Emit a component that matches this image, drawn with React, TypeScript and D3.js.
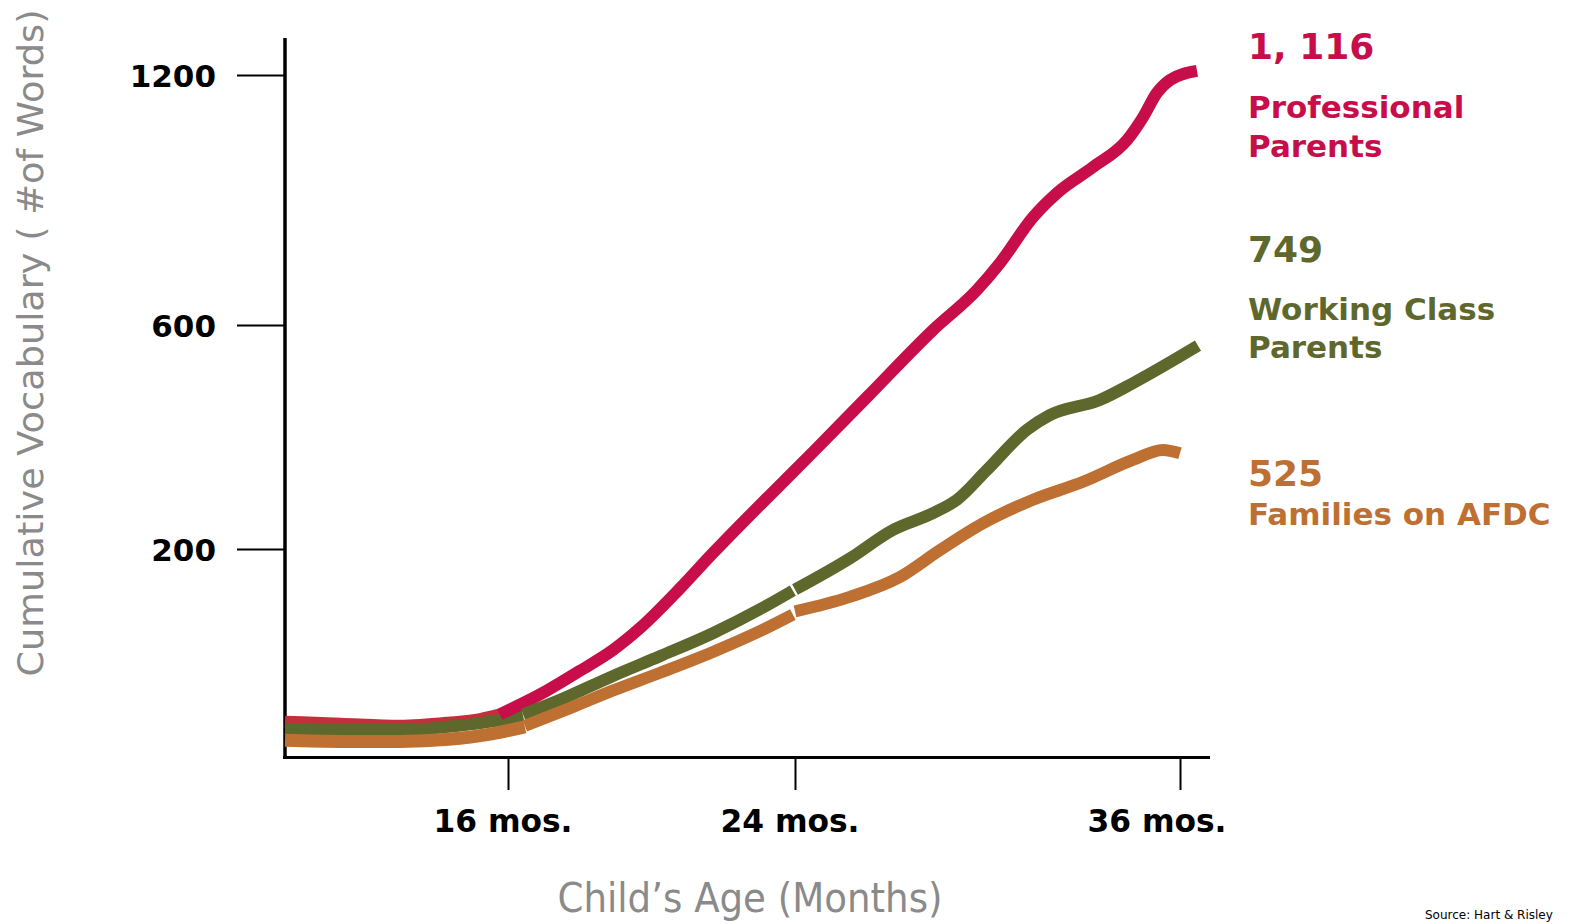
import * as React from 'react';
import * as d3 from 'd3';

// scale breakpoints (the original axes are not linear)
const monthBreaks = [10, 16, 24, 36];
const wordBreaks = [0, 200, 600, 1200];

const xTicks = [16, 24, 36];
const xTickLabels = ['16 mos.', '24 mos.', '36 mos.'];
const yTicks = [200, 600, 1200];
const yTickLabels = ['200', '600', '1200'];

// [month, cumulative words], drawn in pieces like the source slide
const professionalA = [[10, 34], [11.5, 32], [13.1, 30], [14.4, 33], [15.25, 36.5], [15.8, 41]];
const professionalB = [
  [15.78, 41], [17.09, 64], [18.01, 83], [18.93, 103], [19.68, 124], [20.79, 162],
  [21.71, 196], [22.66, 255], [23.58, 314], [24.56, 373], [26.24, 471], [28.3, 591],
  [29.67, 684], [30.39, 749], [31.42, 859], [32.17, 917], [33.29, 979], [34.35, 1044],
  [34.85, 1099], [35.28, 1157], [35.69, 1188], [36.53, 1210],
];

const workingA = [[10, 27], [11.5, 26], [13.1, 26], [14.4, 29], [15.52, 34], [16.42, 40]];
const workingB = [[16.42, 41], [17.45, 55], [18.93, 78], [20.24, 97], [21.71, 119], [23.02, 142], [23.94, 160]];
const workingC = [
  [24, 161], [25.71, 191], [27.05, 234], [28.3, 264], [29.05, 288], [29.98, 341],
  [31.23, 413], [31.94, 439], [33.5, 466], [34.53, 496], [36.56, 563],
];

const afdcA = [[10, 16], [11.5, 15], [13.1, 15], [14.4, 17], [15.52, 22], [16.47, 29]];
const afdcB = [[16.47, 30], [17.73, 47], [18.93, 64], [20.24, 81], [21.71, 101], [23.02, 121], [23.94, 137]];
const afdcC = [
  [24, 140], [25.71, 154], [27.27, 173], [28.52, 199], [29.86, 246], [31.42, 288],
  [32.98, 320], [34.53, 359], [35.47, 377], [36, 371],
];

const finalCounts = ['1, 116', '749', '525'];
const groupNames = [['Professional', 'Parents'], ['Working Class', 'Parents'], ['Families on AFDC']];

const red = '#C70E4A';
const redEarly = '#C2303C';
const green = '#5E682C';
const orange = '#BE6F32';

const width = 1570;
const height = 924;

const drawChart = (node: SVGSVGElement) => {
  const svg = d3.select(node);
  svg.selectAll('*').remove();

  const x = d3.scaleLinear().domain(monthBreaks).range([285, 508, 795, 1180]);
  const y = d3.scaleLinear().domain(wordBreaks).range([757, 549, 325, 75]);

  const line = d3.line<any>()
    .x((d) => x(d[0]))
    .y((d) => y(d[1]))
    .curve(d3.curveMonotoneX);

  // y ticks + labels
  const yAxis = d3.axisLeft(y)
    .tickValues(yTicks)
    .tickSize(48)
    .tickSizeOuter(0)
    .tickPadding(21)
    .tickFormat((d, i) => yTickLabels[i]);
  const gy = svg.append('g')
    .attr('transform', 'translate(285,0)')
    .call(yAxis);
  gy.select('.domain').remove();
  gy.selectAll('line').attr('stroke', '#000').attr('stroke-width', 2);
  gy.selectAll('text')
    .attr('dy', '0.36em')
    .attr('fill', '#000')
    .style('font-family', '"DejaVu Sans", Verdana, sans-serif')
    .style('font-weight', 'bold')
    .style('font-size', '31px');

  // x ticks
  const xAxis = d3.axisBottom(x)
    .tickValues(xTicks)
    .tickSize(33)
    .tickSizeOuter(0)
    .tickFormat(() => '');
  const gx = svg.append('g')
    .attr('transform', 'translate(0,757)')
    .call(xAxis);
  gx.select('.domain').remove();
  gx.selectAll('line').attr('stroke', '#000').attr('stroke-width', 2);

  // x tick labels, nudged left like the slide
  const labelShift = [-5, -5, -23];
  svg.append('g')
    .selectAll('text')
    .data(xTicks)
    .join('text')
    .attr('x', (d, i) => x(d) + labelShift[i])
    .attr('y', 832)
    .attr('text-anchor', 'middle')
    .attr('textLength', 139)
    .attr('lengthAdjust', 'spacingAndGlyphs')
    .style('font-family', '"DejaVu Sans Condensed", "DejaVu Sans", sans-serif')
    .style('font-weight', 'bold')
    .style('font-size', '32px')
    .text((d, i) => xTickLabels[i]);

  // axis lines
  svg.append('line')
    .attr('x1', 285).attr('x2', 285)
    .attr('y1', 38).attr('y2', 759)
    .attr('stroke', '#000').attr('stroke-width', 3.5);
  svg.append('line')
    .attr('x1', 283).attr('x2', 1210)
    .attr('y1', 757.5).attr('y2', 757.5)
    .attr('stroke', '#000').attr('stroke-width', 3);

  // axis titles
  svg.append('text')
    .attr('transform', 'translate(43,343) rotate(-90)')
    .attr('text-anchor', 'middle')
    .attr('fill', '#8a8a8a')
    .attr('textLength', 667)
    .attr('lengthAdjust', 'spacingAndGlyphs')
    .style('font-family', '"DejaVu Sans", Verdana, sans-serif')
    .style('font-size', '35px')
    .text('Cumulative Vocabulary ( #of Words)');

  svg.append('text')
    .attr('x', 750)
    .attr('y', 912)
    .attr('text-anchor', 'middle')
    .attr('fill', '#8a8a8a')
    .attr('textLength', 385)
    .attr('lengthAdjust', 'spacingAndGlyphs')
    .style('font-family', '"DejaVu Sans Condensed", "DejaVu Sans", sans-serif')
    .style('font-size', '41px')
    .text('Child\u2019s Age (Months)');

  // lines: early pieces first, then the later pieces
  const pieces = [
    { data: professionalA, color: redEarly, w: 12 },
    { data: workingA, color: green, w: 12 },
    { data: afdcA, color: orange, w: 13 },
    { data: professionalB, color: red, w: 12 },
    { data: workingB, color: green, w: 12 },
    { data: workingC, color: green, w: 12 },
    { data: afdcB, color: orange, w: 12 },
    { data: afdcC, color: orange, w: 12 },
  ];
  svg.append('g')
    .selectAll('path')
    .data(pieces)
    .join('path')
    .attr('d', (p) => line(p.data))
    .attr('fill', 'none')
    .attr('stroke', (p) => p.color)
    .attr('stroke-width', (p) => p.w)
    .attr('stroke-linecap', 'butt')
    .attr('stroke-linejoin', 'round');

  // end labels
  const labelColors = [red, green, orange];
  const countY = [59, 262, 486];
  const nameY = [[118, 157], [320, 358], [525]];
  const labels = svg.append('g')
    .style('font-family', '"DejaVu Sans", Verdana, sans-serif')
    .style('font-weight', 'bold');
  finalCounts.forEach((c, i) => {
    labels.append('text')
      .attr('x', 1248)
      .attr('y', countY[i])
      .attr('fill', labelColors[i])
      .style('font-size', '36px')
      .text(c);
    groupNames[i].forEach((n, j) => {
      labels.append('text')
        .attr('x', 1248)
        .attr('y', nameY[i][j])
        .attr('fill', labelColors[i])
        .style('font-size', '31px')
        .text(n);
    });
  });

  // source note, kept small so it stays on the canvas
  svg.append('text')
    .attr('x', 1425)
    .attr('y', 919)
    .attr('fill', '#000')
    .style('font-family', '"DejaVu Sans", Verdana, sans-serif')
    .style('font-size', '12px')
    .text('Source: Hart & Risley');
};

const App = () => {
  const ref = React.useRef<SVGSVGElement>(null);

  React.useEffect(() => {
    if (ref.current) drawChart(ref.current);
  }, []);

  return (
    <svg
      ref={ref}
      width={width}
      height={height}
      style={{ position: 'absolute', left: 0, top: 0, display: 'block', background: '#fff' }}
    />
  );
};

export default App;
